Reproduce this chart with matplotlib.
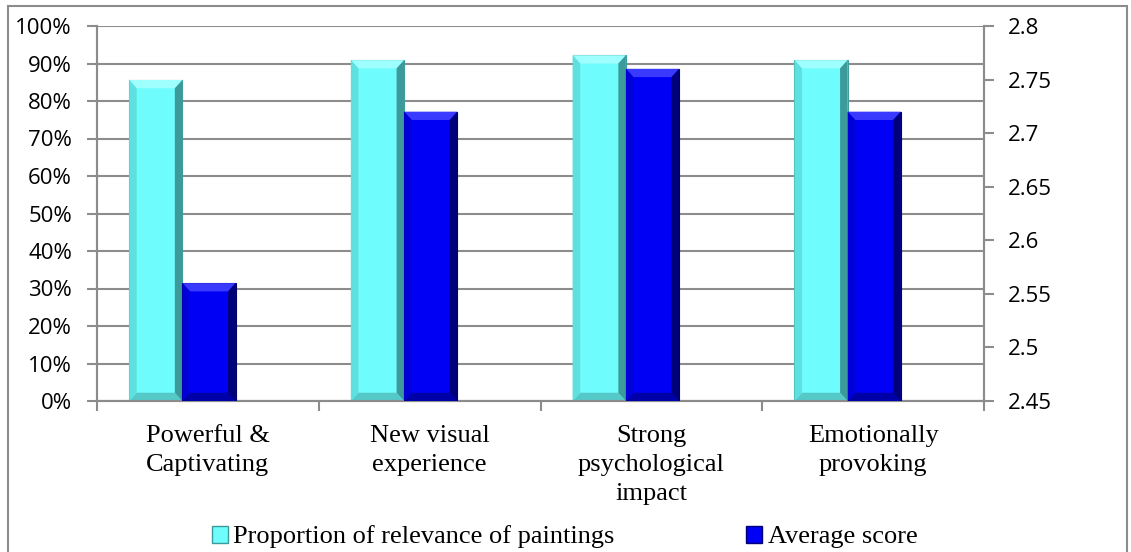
import numpy as np
import matplotlib.pyplot as plt
from matplotlib.patches import Rectangle, Polygon

# === Data ===
categories = ["Powerful &\nCaptivating", "New visual\nexperience",
              "Strong\npsychological\nimpact", "Emotionally\nprovoking"]
proportion = [85.6, 90.9, 92.2, 90.9]      # % (left axis)
avg_score = [2.56, 2.72, 2.76, 2.72]       # right axis
label_prop = "Proportion of relevance of paintings"
label_avg = "Average score"

cyan = "#6ffcfc"
blue = "#0000f5"
grid_gray = "#8c8c8c"

fig = plt.figure(figsize=(11.31, 5.52), dpi=100)
ax = fig.add_axes([97 / 1131, 1 - 401 / 552, 887 / 1131, 375 / 552])
ax2 = ax.twinx()

x = np.arange(len(categories))
w = 0.24

# === Bars ===
b1 = ax.bar(x - 0.235, proportion, width=w, color=cyan,
            edgecolor="#3f9f9f", linewidth=0.8, zorder=3)
b2 = ax2.bar(x + 0.005, np.array(avg_score) - 2.45, bottom=2.45, width=w,
             color=blue, edgecolor="#00006a", linewidth=0.8, zorder=3)


def bevel(bars, a, dy, light, side, dark, bottom):
    # fake the beveled excel look with 4 polygons per bar
    dx = 0.034
    for r in bars:
        x0, y0 = r.get_x(), r.get_y()
        x1, y1 = x0 + r.get_width(), y0 + r.get_height()
        polys = [
            ([(x0, y1), (x1, y1), (x1 - dx, y1 - dy), (x0 + dx, y1 - dy)], light),
            ([(x0, y0), (x1, y0), (x1 - dx, y0 + dy), (x0 + dx, y0 + dy)], bottom),
            ([(x0, y0), (x0, y1), (x0 + dx, y1 - dy), (x0 + dx, y0 + dy)], side),
            ([(x1, y0), (x1, y1), (x1 - dx, y1 - dy), (x1 - dx, y0 + dy)], dark),
        ]
        for pts, c in polys:
            a.add_patch(Polygon(pts, closed=True, color=c, lw=0, zorder=4))


bevel(b1, ax, 2.2, "#9ffefe", "#5ee0e0", "#3c9a9a", "#55c8c8")
bevel(b2, ax2, 0.0077, "#3a3aff", "#0000d8", "#000078", "#0000a8")

# === Axes ===
ax.set_xlim(-0.5, 3.5)
ax.set_ylim(0, 100)
ax.set_yticks(np.arange(0, 101, 10))
ax.set_yticklabels([f"{v}%" for v in range(0, 101, 10)])
ax.yaxis.grid(True, color=grid_gray, linewidth=1.5, zorder=0)
ax.set_axisbelow(True)

ax2.set_ylim(2.45, 2.8)
ax2.set_yticks([2.45, 2.5, 2.55, 2.6, 2.65, 2.7, 2.75, 2.8])
ax2.set_yticklabels(["2.45", "2.5", "2.55", "2.6", "2.65", "2.7", "2.75", "2.8"])

ax.set_xticks(x)
ax.set_xticklabels(categories, fontfamily="Liberation Serif", fontsize=19,
                   linespacing=1.43)
ax.set_xticks(np.arange(-0.5, 4, 1), minor=True)
ax.tick_params(axis="x", which="major", length=0, pad=17)
ax.tick_params(axis="x", which="minor", length=7, width=1.5, color=grid_gray)
ax.tick_params(axis="y", length=7, width=1.5, color=grid_gray, pad=11)
ax2.tick_params(axis="y", length=7, width=1.5, color=grid_gray, pad=10)

for a in (ax, ax2):
    for lab in a.get_yticklabels():
        lab.set_fontfamily("Open Sans")
        lab.set_fontsize(16)
    a.spines["top"].set_visible(False)
    for s in ["left", "right", "bottom"]:
        a.spines[s].set_color(grid_gray)
        a.spines[s].set_linewidth(1.5)

# === Legend ===
h1 = Rectangle((0, 0), 1, 1, facecolor=cyan, edgecolor="#3c9a9a", lw=1)
h2 = Rectangle((0, 0), 1, 1, facecolor=blue, edgecolor="#000078", lw=1)
fig.legend([h1, h2], [label_prop, label_avg], loc="center left",
           bbox_to_anchor=(212 / 1131, 1 - 537 / 552), ncol=2,
           frameon=False, handlelength=0.6, handleheight=0.6,
           handletextpad=0.2, columnspacing=5.0, borderpad=0,
           borderaxespad=0,
           prop={"family": "Liberation Serif", "size": 19})

# outer chart frame
fig.patches.append(Rectangle((8 / 1131, -0.05), 1119 / 1131, 1.05 - 6 / 552,
                             transform=fig.transFigure, fill=False,
                             edgecolor=grid_gray, linewidth=1.5))

fig.savefig("out.png", dpi=100)
